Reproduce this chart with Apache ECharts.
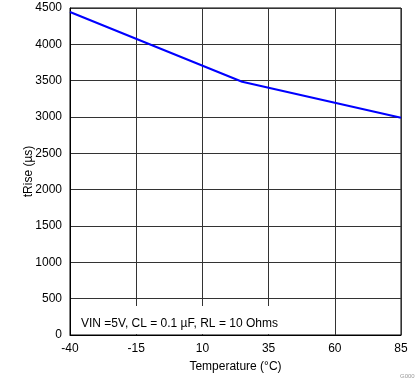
<!DOCTYPE html>
<html><head><meta charset="utf-8">
<script src="https://cdn.jsdelivr.net/npm/echarts@6/dist/echarts.min.js"></script>
<style>html,body{margin:0;padding:0;background:#fff}#c{width:419px;height:382px}</style>
</head><body><div id="c"></div>
<script>
const temps = [-40, 25, 85];
const tRise = [4445, 3485, 2990];
const xTicks = [-40, -15, 10, 35, 60, 85];
const yTicks = [0, 500, 1000, 1500, 2000, 2500, 3000, 3500, 4000, 4500];
const note = 'VIN =5V, CL = 0.1 µF, RL = 10 Ohms';

const chart = echarts.init(document.getElementById('c'), null, {renderer: 'canvas'});
const font = 'Liberation Sans, Arial, sans-serif';
chart.setOption({
  animation: false,
  grid: {left: 70, right: 18, top: 8, bottom: 47, show: true, borderColor: '#000', borderWidth: 1, backgroundColor: 'transparent'},
  xAxis: {
    type: 'value', min: xTicks[0], max: xTicks[xTicks.length-1], interval: 25,
    name: 'Temperature (°C)', nameLocation: 'middle', nameGap: 26, nameMoveOverlap: false,
    nameTextStyle: {fontFamily: font, fontSize: 12, color: '#000'},
    axisLine: {show: true, onZero: false, lineStyle: {color: '#000', width: 1}},
    axisTick: {show: false},
    axisLabel: {fontFamily: font, fontSize: 12, color: '#000', margin: 8, formatter: v => String(v)},
    splitLine: {show: true, lineStyle: {color: '#333', width: 1}}
  },
  yAxis: {
    type: 'value', min: yTicks[0], max: yTicks[yTicks.length-1], interval: 500,
    name: 'tRise (µs)', nameLocation: 'middle', nameGap: 35, nameMoveOverlap: false,
    nameTextStyle: {fontFamily: font, fontSize: 12, color: '#000'},
    axisLine: {show: true, onZero: false, lineStyle: {color: '#000', width: 1}},
    axisTick: {show: false},
    axisLabel: {fontFamily: font, fontSize: 12, color: '#000', margin: 8, formatter: v => String(v)},
    splitLine: {show: true, lineStyle: {color: '#333', width: 1}}
  },
  series: [{
    type: 'line', data: temps.map((t, i) => [t, tRise[i]]),
    showSymbol: false, lineStyle: {color: '#0000ff', width: 2}, z: 5
  }],
  graphic: [
    {type: 'rect', z: 50, shape: {x: 71, y: 306, width: 258, height: 28}, style: {fill: '#fff'}},
    {type: 'text', z: 51, left: 81, top: 318, style: {text: note, font: '12px ' + font, fill: '#000'}},
    {type: 'text', z: 51, left: 400, top: 373, style: {text: 'G000', font: '6px ' + font, fill: '#999'}}
  ]
});
</script></body></html>
